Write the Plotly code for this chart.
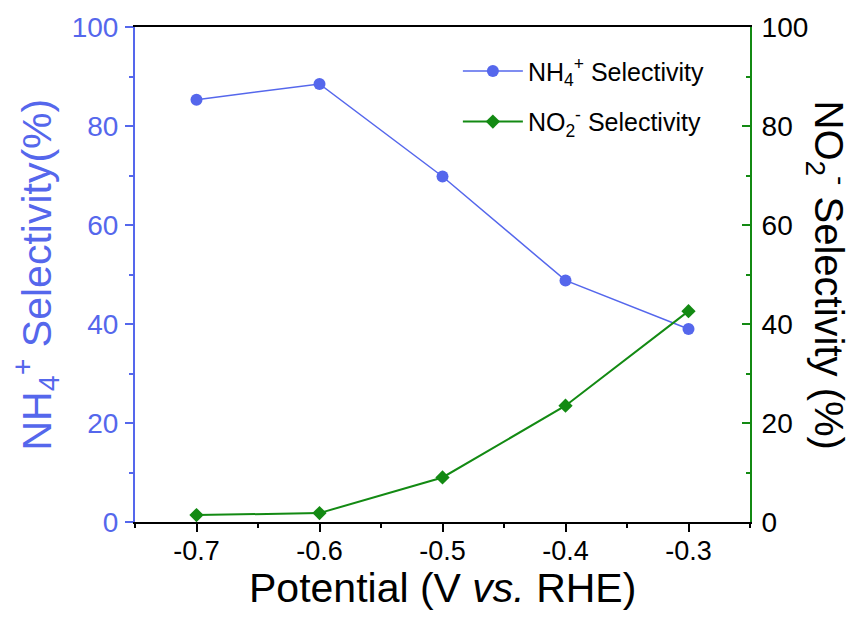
import plotly.graph_objects as go

potential = [-0.7, -0.6, -0.5, -0.4, -0.3]
nh4_sel = [85.3, 88.5, 69.8, 48.8, 39.0]
no2_sel = [1.4, 1.8, 9.0, 23.5, 42.6]
x_tickvals = [-0.7, -0.6, -0.5, -0.4, -0.3]
x_ticktext = ["-0.7", "-0.6", "-0.5", "-0.4", "-0.3"]

BLUE = "#5567ec"
GREEN = "#138a13"
FONT = "Arial, Liberation Sans, sans-serif"

fig = go.Figure()
fig.add_trace(go.Scatter(
    x=potential, y=nh4_sel, mode="lines+markers",
    name="NH<sub>4</sub><sup>+</sup> Selectivity",
    line=dict(color=BLUE, width=1.5),
    marker=dict(symbol="circle", size=12, color=BLUE),
    legendgroup="a", yaxis="y"))
fig.add_trace(go.Scatter(
    x=potential, y=no2_sel, mode="lines+markers",
    name="NO<sub>2</sub><sup>-</sup> Selectivity",
    line=dict(color=GREEN, width=2),
    marker=dict(symbol="diamond", size=11, color=GREEN),
    legendgroup="b", yaxis="y2"))

fig.update_layout(
    width=857, height=617,
    margin=dict(l=135, r=107, t=27, b=95),
    paper_bgcolor="white", plot_bgcolor="white",
    font=dict(family=FONT, color="black"),
    showlegend=True,
    legend=dict(x=0.525, xanchor="left", y=0.957, yanchor="top",
                font=dict(size=25, color="black"),
                bgcolor="rgba(0,0,0,0)", itemwidth=60,
                traceorder="grouped", tracegroupgap=15),
    xaxis=dict(range=[-0.75, -0.25], tickvals=x_tickvals, ticktext=x_ticktext,
               showgrid=False, zeroline=False,
               showline=True, linecolor="black", linewidth=2, mirror=True,
               ticks="outside", ticklen=8, tickwidth=2, tickcolor="black",
               minor=dict(ticks="outside", ticklen=4, tickwidth=2, tickcolor="black", dtick=0.05, tick0=-0.75),
               tickfont=dict(size=27, color="black"), ticklabelstandoff=-4),
    yaxis=dict(range=[0, 100], dtick=20, showgrid=False, zeroline=False,
               showline=True, linecolor=BLUE, linewidth=2,
               ticks="outside", ticklen=8, tickwidth=2, tickcolor=BLUE,
               minor=dict(ticks="outside", ticklen=4, tickwidth=2, tickcolor=BLUE, dtick=10),
               tickfont=dict(size=28, color=BLUE), ticklabelstandoff=1),
    yaxis2=dict(range=[0, 100], dtick=20, showgrid=False, zeroline=False,
                overlaying="y", side="right",
                showline=True, linecolor=GREEN, linewidth=2,
                ticks="inside", ticklen=8, tickwidth=2, tickcolor=GREEN,
                minor=dict(ticks="inside", ticklen=4, tickwidth=2, tickcolor=GREEN, dtick=10),
                tickfont=dict(size=28, color="black"), ticklabelstandoff=4),
    annotations=[
        dict(text="Potential (V <i>vs.</i> RHE)", xref="paper", yref="paper",
             x=0.5, y=0, yshift=-66, xanchor="center", yanchor="middle",
             showarrow=False, font=dict(size=41, color="black")),
        dict(text="NH<sub>4</sub><sup>+</sup> Selectivity(%)", xref="paper", yref="paper",
             x=0, y=0.5, xshift=-99, xanchor="center", yanchor="middle", textangle=-90,
             showarrow=False, font=dict(size=41, color=BLUE)),
        dict(text="NO<sub>2</sub><sup>-</sup> Selectivity (%)", xref="paper", yref="paper",
             x=1, y=0.5, xshift=79, xanchor="center", yanchor="middle", textangle=90,
             showarrow=False, font=dict(size=40, color="black")),
    ],
)

fig.write_html("out.html")
